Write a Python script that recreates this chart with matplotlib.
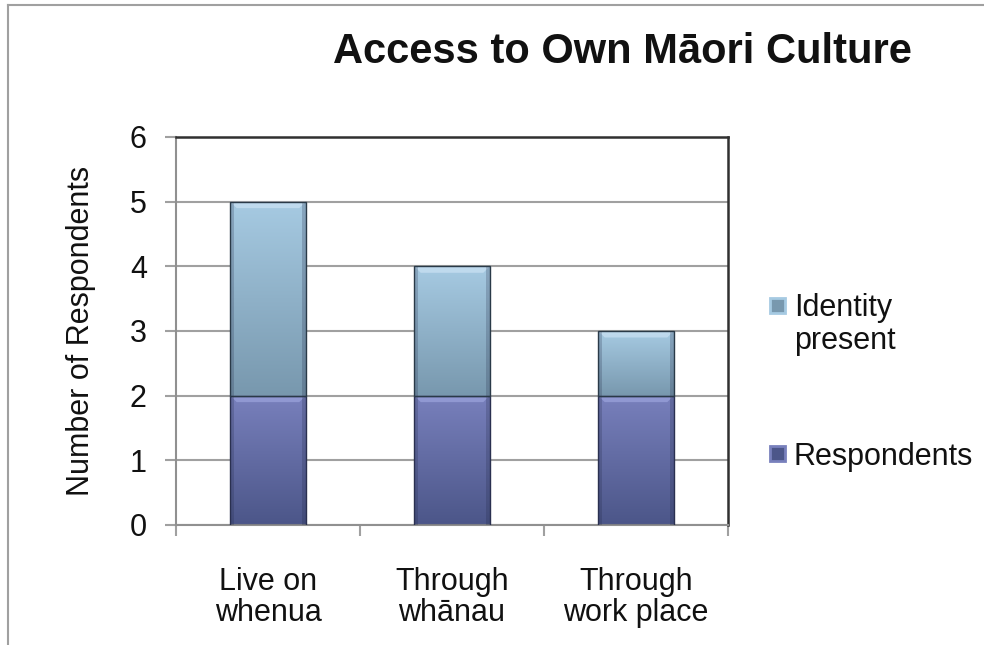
import numpy as np
import matplotlib.pyplot as plt
from matplotlib.colors import to_rgb
from matplotlib.lines import Line2D
from matplotlib.patches import Polygon, Rectangle

plt.rcParams['font.family'] = ['Liberation Sans', 'DejaVu Sans']

# Data
categories = ["Live on\nwhenua", "Through\nwhānau", "Through\nwork place"]
respondents = [2, 2, 2]
identity_present = [3, 2, 1]
y_ticks = [0, 1, 2, 3, 4, 5, 6]
series_names = ["Identity\npresent", "Respondents"]

# top / bottom colours of each series gradient
resp_colors = ("#7880bc", "#4c5689")
ident_colors = ("#a6cae2", "#7898ae")
bar_width = 0.41


def gradient_fill(ax, patch, top, bottom, bevel="#c8daf0"):
    """Fill a bar patch with a vertical gradient and a light top bevel."""
    x, y = patch.get_x(), patch.get_y()
    w, h = patch.get_width(), patch.get_height()
    t = np.linspace(0, 1, 64)[:, None]
    c0, c1 = np.array(to_rgb(top)), np.array(to_rgb(bottom))
    img = (c0 * (1 - t) + c1 * t)[:, None, :].repeat(2, axis=1)
    im = ax.imshow(img, extent=[x, x + w, y, y + h], origin='upper',
                   aspect='auto', interpolation='bilinear', zorder=2)
    im.set_clip_path(patch)
    # bevel along the top edge
    bh, bw = 0.1, 0.035
    ax.add_patch(Polygon([(x, y + h), (x + w, y + h), (x + w - bw, y + h - bh),
                          (x + bw, y + h - bh)], closed=True,
                         facecolor=bevel, alpha=0.45, edgecolor='none', zorder=3))
    # darker side edges
    for sx in (x, x + w - bw * 0.6):
        ax.add_patch(Rectangle((sx, y), bw * 0.6, h, facecolor='#1e2440',
                               alpha=0.22, edgecolor='none', zorder=3))
    patch.set_facecolor('none')


fig = plt.figure(figsize=(9.84, 6.45), dpi=100)
ax = fig.add_axes([176 / 984, 120 / 645, 552 / 984, 388 / 645])

x = np.arange(len(categories))
b1 = ax.bar(x, respondents, bar_width, edgecolor='#2a3050', linewidth=1.0, zorder=4)
b2 = ax.bar(x, identity_present, bar_width, bottom=respondents,
            edgecolor='#2a3a48', linewidth=1.0, zorder=4)
for p in b1:
    gradient_fill(ax, p, *resp_colors, bevel="#b0b8f0")
for p in b2:
    gradient_fill(ax, p, *ident_colors, bevel="#e0f0ff")

ax.set_xlim(-0.5, len(categories) - 0.5)
ax.set_ylim(0, 6)
ax.set_yticks(y_ticks)
ax.set_xticks(x)
ax.set_xticklabels(categories, fontsize=22, linespacing=1.05, color='#111111')
ax.set_xticks(np.arange(len(categories) + 1) - 0.5, minor=True)
ax.tick_params(axis='x', which='major', length=0, pad=30)
ax.tick_params(axis='x', which='minor', length=8, width=1.5, color='#a0a0a0',
               direction='out')
ax.tick_params(axis='y', length=8, width=1.5, color='#a0a0a0', labelsize=22,
               labelcolor='#111111', pad=13, direction='out')
ax.yaxis.grid(True, color='#a0a0a0', linewidth=1.5, zorder=0)
ax.set_axisbelow(True)

for side in ('left', 'bottom'):
    ax.spines[side].set_color('#909090')
    ax.spines[side].set_linewidth(1.5)
for side in ('top', 'right'):
    ax.spines[side].set_color('#303030')
    ax.spines[side].set_linewidth(1.8)

ax.set_ylabel("Number of Respondents", fontsize=22, labelpad=24, color='#111111')

fig.text(622 / 984, 1 - 52 / 645, "Access to Own Māori Culture", fontsize=30,
         fontweight='bold', ha='center', va='center', color='#111111')

# legend, drawn by hand so the markers sit beside the first text line
legend_items = [(series_names[0], ident_colors, 305), (series_names[1], resp_colors, 453)]
for label, cols, yc in legend_items:
    fig.add_artist(Rectangle((770 / 984, 1 - (yc + 7.5) / 645), 15 / 984, 15 / 645,
                             transform=fig.transFigure, facecolor=cols[1],
                             edgecolor=cols[0], linewidth=2))
    first, *rest = label.split('\n')
    fig.text(794 / 984, 1 - yc / 645, first, fontsize=22, ha='left',
             va='center_baseline', color='#111111')
    for i, line in enumerate(rest, start=1):
        fig.text(794 / 984, 1 - (yc + 33 * i) / 645, line, fontsize=22, ha='left',
                 va='center_baseline', color='#111111')

# outer chart frame
fig.add_artist(Line2D([8 / 984, 1], [1 - 5 / 645] * 2, transform=fig.transFigure,
                      color='#a0a0a0', linewidth=1.5))
fig.add_artist(Line2D([8 / 984] * 2, [0, 1 - 5 / 645], transform=fig.transFigure,
                      color='#a0a0a0', linewidth=1.5))

fig.savefig("out.png", dpi=100)
